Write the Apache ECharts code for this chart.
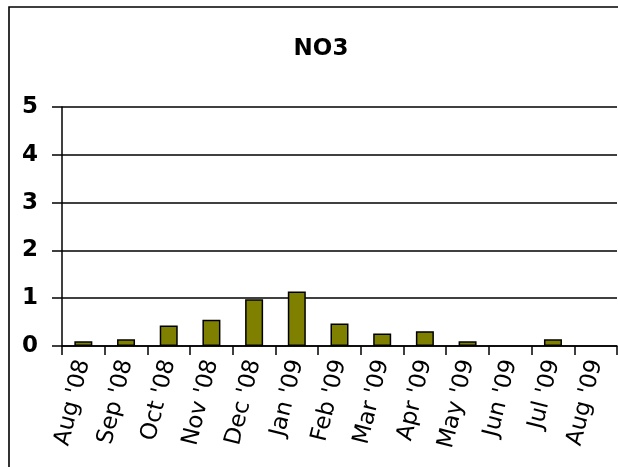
<!DOCTYPE html>
<html>
<head>
<meta charset="utf-8">
<script src="https://cdn.jsdelivr.net/npm/echarts@6/dist/echarts.min.js"></script>
<style>
html,body{margin:0;padding:0;background:#fff;}
#chart{width:618px;height:467px;}
</style>
</head>
<body>
<div id="chart"></div>
<script>
const categories = ["Aug '08","Sep '08","Oct '08","Nov '08","Dec '08","Jan '09","Feb '09","Mar '09","Apr '09","May '09","Jun '09","Jul '09","Aug '09"];
const no3Values = [0.1, 0.14, 0.43, 0.55, 0.98, 1.14, 0.47, 0.26, 0.31, 0.1, null, 0.14, null];
const yTicks = [0, 1, 2, 3, 4, 5];
const chartTitle = 'NO3';

const chart = echarts.init(document.getElementById('chart'), null, {renderer: 'canvas'});
const FONT = 'DejaVu Sans';
chart.setOption({
  animation: false,
  backgroundColor: '#fff',
  title: {
    text: chartTitle,
    left: 321,
    top: 38,
    padding: 0,
    textAlign: 'center',
    textStyle: {fontFamily: FONT, fontWeight: 'bold', fontSize: 23, color: '#000'}
  },
  graphic: [{
    type: 'rect',
    shape: {x: 9, y: 7, width: 700, height: 700},
    style: {fill: 'none', stroke: '#000', lineWidth: 1.6},
    silent: true
  }],
  grid: {left: 62, right: 1, top: 107, bottom: 121, containLabel: false, outerBoundsMode: 'none'},
  xAxis: {
    type: 'category',
    data: categories,
    boundaryGap: true,
    axisLine: {show: true, lineStyle: {color: '#000', width: 1.5}},
    axisTick: {show: true, length: 9, lineStyle: {color: '#000', width: 1.5}},
    axisLabel: {
      interval: 0,
      rotate: 76,
      margin: 14,
      fontFamily: FONT,
      fontSize: 23,
      color: '#000'
    }
  },
  yAxis: {
    type: 'value',
    min: yTicks[0],
    max: yTicks[yTicks.length - 1],
    interval: 1,
    axisLine: {show: true, lineStyle: {color: '#000', width: 1.5}},
    axisTick: {show: true, length: 10, lineStyle: {color: '#000', width: 1.5}},
    axisLabel: {margin: 24, fontFamily: FONT, fontWeight: 'bold', fontSize: 23, color: '#000'},
    splitLine: {show: true, lineStyle: {color: '#000', width: 1.5}}
  },
  series: [{
    type: 'bar',
    data: no3Values,
    barWidth: 18,
    itemStyle: {color: '#808000', borderColor: '#000', borderWidth: 1.5}
  }]
});
</script>
</body>
</html>
